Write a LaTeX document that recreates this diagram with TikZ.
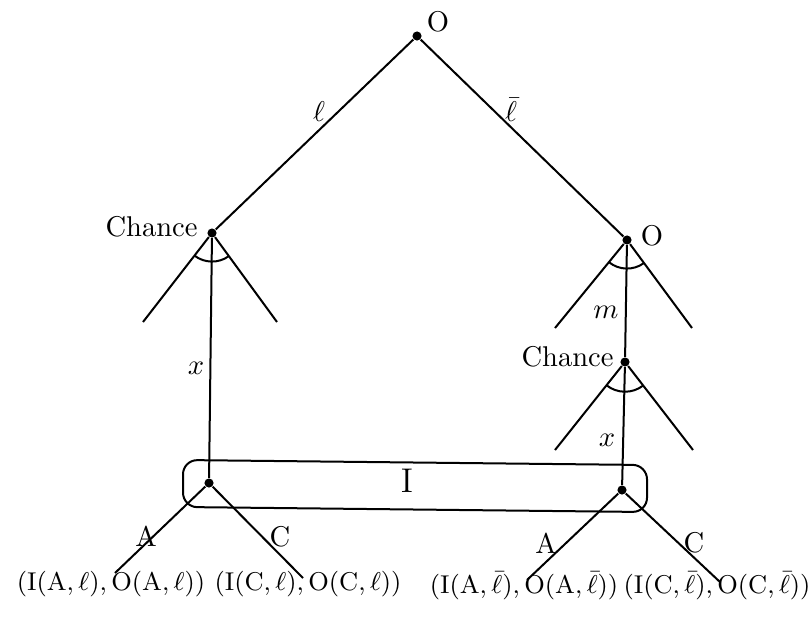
\documentclass[tikz,border=0pt]{standalone}
\begin{document}
\begin{tikzpicture}[x=0.35pt,y=0.35pt,
  dot/.style={circle,fill=black,inner sep=0pt,minimum size=3.2pt},
  edge/.style={line width=0.7pt},
  lbl/.style={inner sep=1pt},
  leaf/.style={inner sep=0pt,font=\fontsize{8.6}{10}\selectfont}]
\useasboundingbox (0,0) rectangle (812,-617);
% decision nodes
\node[dot] (root) at (417,-36) {};
\node[dot] (chL) at (212,-233) {};
\node[dot] (oR) at (627,-240) {};
\node[dot] (chR) at (625,-362) {};
\node[dot] (iL) at (209,-483) {};
\node[dot] (iR) at (622,-490) {};
% free ends
\coordinate (chL1) at (143,-322);
\coordinate (chL2) at (277,-322);
\coordinate (oR1) at (555,-328);
\coordinate (oR2) at (692,-328);
\coordinate (chR1) at (555,-450);
\coordinate (chR2) at (693,-450);
\coordinate (lA) at (115,-573);
\coordinate (lC) at (303,-578);
\coordinate (rA) at (527,-580);
\coordinate (rC) at (720,-582);
% edges
\draw[edge] (root) -- (chL);
\draw[edge] (root) -- (oR);
\draw[edge] (chL) -- (chL1);
\draw[edge] (chL) -- (chL2);
\draw[edge] (chL) -- (iL);
\draw[edge] (oR) -- (oR1);
\draw[edge] (oR) -- (oR2);
\draw[edge] (oR) -- (chR);
\draw[edge] (chR) -- (chR1);
\draw[edge] (chR) -- (chR2);
\draw[edge] (chR) -- (iR);
\draw[edge] (iL) -- (lA);
\draw[edge] (iL) -- (lC);
\draw[edge] (iR) -- (rA);
\draw[edge] (iR) -- (rC);
% chance arcs
\draw[edge] ([shift={(232:10pt)}]chL.center) arc[start angle=232,end angle=306,radius=10pt];
\draw[edge] ([shift={(231:10pt)}]oR.center) arc[start angle=231,end angle=306,radius=10pt];
\draw[edge] ([shift={(231:10.4pt)}]chR.center) arc[start angle=231,end angle=308,radius=10.4pt];
% information set
\draw[edge,rounded corners=5pt] (183,-460) -- (647,-465) -- (647,-512) -- (183,-507) -- cycle;
\node[lbl,font=\large] (Ilab) at (407,-481) {I};
% node labels
\node[lbl] (rootlab) at (438,-22) {O};
\node[lbl,anchor=east] (chLlab) at (201,-227) {Chance};
\node[lbl] (oRlab) at (652,-236) {O};
\node[lbl,anchor=east] (chRlab) at (617,-357) {Chance};
% edge labels
\node[lbl] (e1) at (319,-112) {$\ell$};
\node[lbl] (e2) at (511,-110) {$\bar\ell$};
\node[lbl] (e3) at (196,-368) {$x$};
\node[lbl] (e4) at (606,-312) {$m$};
\node[lbl] (e5) at (607,-440) {$x$};
\node[lbl] (eA1) at (146,-536) {A};
\node[lbl] (eC1) at (280,-537) {C};
\node[lbl] (eA2) at (546,-543) {A};
\node[lbl] (eC2) at (694,-543) {C};
% payoffs
\node[leaf] (p1) at (111,-584) {$(\mathrm{I}(\mathrm{A},\ell),\mathrm{O}(\mathrm{A},\ell))$};
\node[leaf] (p2) at (308,-584) {$(\mathrm{I}(\mathrm{C},\ell),\mathrm{O}(\mathrm{C},\ell))$};
\node[leaf] (p3) at (524,-586) {$(\mathrm{I}(\mathrm{A},\bar\ell),\mathrm{O}(\mathrm{A},\bar\ell))$};
\node[leaf] (p4) at (717,-586) {$(\mathrm{I}(\mathrm{C},\bar\ell),\mathrm{O}(\mathrm{C},\bar\ell))$};
\end{tikzpicture}
\end{document}
